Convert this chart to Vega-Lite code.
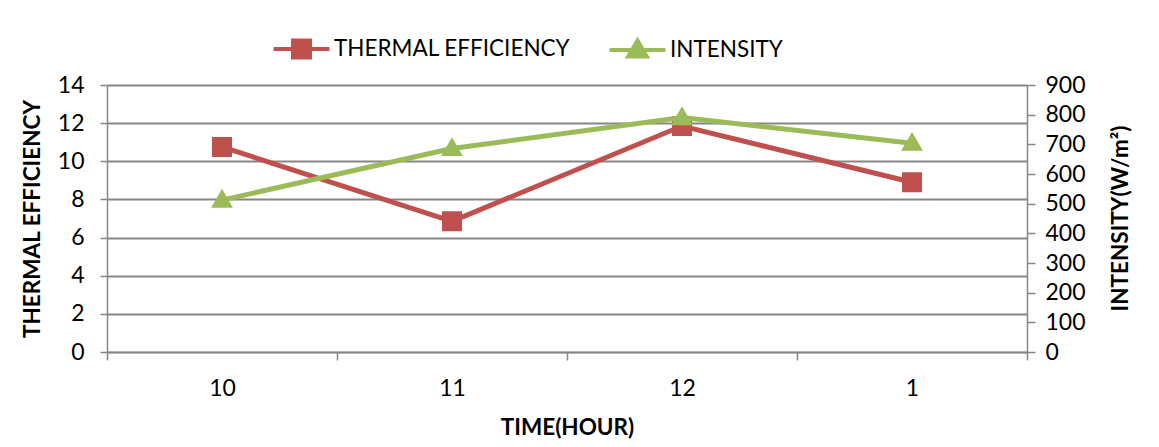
{
  "$schema": "https://vega.github.io/schema/vega-lite/v6.json",
  "autosize": "none",
  "width": 920,
  "height": 267,
  "padding": {"left": 107, "top": 85, "right": 132, "bottom": 95},
  "background": "white",
  "config": {
    "font": "Lato",
    "view": {"stroke": null},
    "axis": {
      "labelFont": "Lato",
      "titleFont": "Lato",
      "labelFontSize": 23,
      "titleFontSize": 22.5,
      "titleFontWeight": "bold",
      "labelColor": "#000000",
      "titleColor": "#000000",
      "domainColor": "#868686",
      "tickColor": "#868686",
      "gridColor": "#868686",
      "domainWidth": 1.5,
      "tickWidth": 1.5,
      "gridWidth": 1.8
    }
  },
  "data": {
    "values": [
      {"time": "10", "efficiency": 10.75, "intensity": 512},
      {"time": "11", "efficiency": 6.85, "intensity": 686},
      {"time": "12", "efficiency": 11.85, "intensity": 790},
      {"time": "1", "efficiency": 8.9, "intensity": 704}
    ]
  },
  "encoding": {
    "x": {
      "field": "time",
      "type": "nominal",
      "sort": ["10", "11", "12", "1"],
      "scale": {"paddingInner": 0, "paddingOuter": 0},
      "axis": {
        "title": "TIME(HOUR)",
        "labelAngle": 0,
        "tickBand": "extent",
        "tickSize": 8,
        "labelPadding": 17,
        "titlePadding": 16,
        "grid": false,
        "domain": true
      }
    }
  },
  "layer": [
    {
      "encoding": {
        "y": {
          "field": "efficiency",
          "type": "quantitative",
          "scale": {"domain": [0, 14]},
          "axis": {
            "title": "THERMAL EFFICIENCY",
            "values": [0, 2, 4, 6, 8, 10, 12, 14],
            "orient": "left",
            "grid": true,
            "tickSize": 7,
            "labelPadding": 16,
            "titlePadding": 13
          }
        },
        "color": {
          "datum": "THERMAL EFFICIENCY",
          "scale": {"domain": ["THERMAL EFFICIENCY", "INTENSITY"], "range": ["#C0504D", "#9BBB59"]},
          "legend": {
            "orient": "none",
            "legendX": 177,
            "legendY": -54,
            "direction": "horizontal",
            "title": null,
            "labelFont": "Lato",
            "labelFontSize": 22.5,
            "labelColor": "#000000",
            "labelLimit": 0,
            "symbolSize": 960,
            "symbolStrokeWidth": 4,
            "columnPadding": 30,
            "labelOffset": 15,
            "encode": {"symbols": {"update": {"stroke": {"scale": "color", "field": "value"}, "strokeWidth": {"value": 4}}}}
          }
        }
      },
      "layer": [
        {"mark": {"type": "line", "strokeWidth": 5}},
        {
          "mark": {"type": "point", "filled": true, "opacity": 1, "size": 1322, "strokeWidth": 0},
          "encoding": {
            "shape": {
              "datum": "THERMAL EFFICIENCY",
              "scale": {
                "domain": ["THERMAL EFFICIENCY", "INTENSITY"],
                "range": ["M-1.8,0H1.8M-0.55,-0.55H0.55V0.55H-0.55Z", "M-1.8,0H1.8M0,-0.62L0.6,0.42H-0.6Z"]
              }
            }
          }
        }
      ]
    },
    {
      "encoding": {
        "y": {
          "field": "intensity",
          "type": "quantitative",
          "scale": {"domain": [0, 900]},
          "axis": {
            "title": "INTENSITY(W/m²)",
            "values": [0, 100, 200, 300, 400, 500, 600, 700, 800, 900],
            "orient": "right",
            "grid": false,
            "tickSize": 8,
            "labelPadding": 10,
            "titleAngle": 270,
            "titleX": 93,
            "titleY": 133,
            "titleAlign": "center",
            "titleBaseline": "middle"
          }
        },
        "color": {"datum": "INTENSITY"}
      },
      "layer": [
        {"mark": {"type": "line", "strokeWidth": 5}},
        {
          "mark": {"type": "point", "filled": true, "opacity": 1, "size": 1322, "strokeWidth": 0},
          "encoding": {"shape": {"datum": "INTENSITY"}}
        }
      ]
    }
  ],
  "resolve": {"scale": {"y": "independent"}}
}
